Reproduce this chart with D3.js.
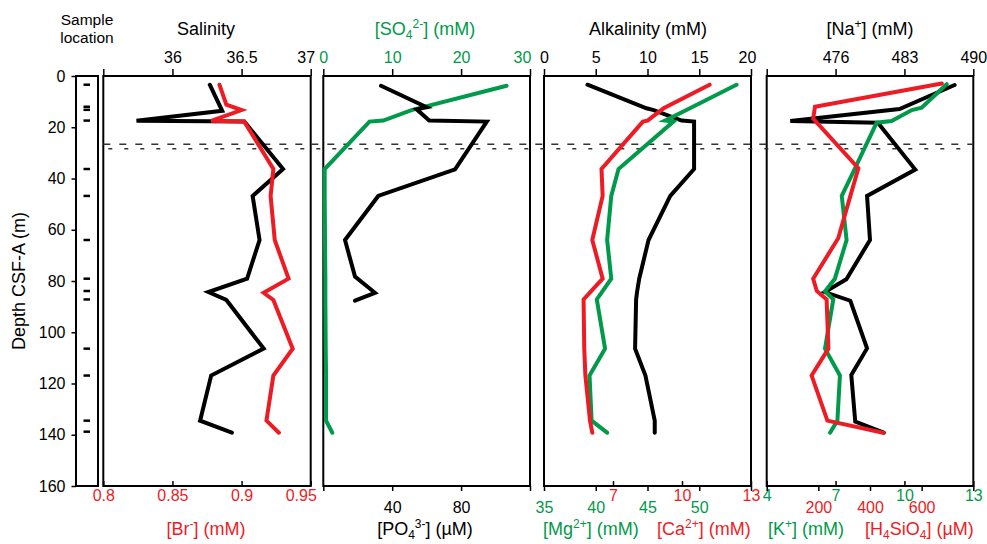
<!DOCTYPE html>
<html>
<head>
<meta charset="utf-8">
<script src="https://cdn.jsdelivr.net/npm/d3@7"></script>
<style>
body { margin: 0; background: #fff; }
svg text { font-family: "Liberation Sans", Arial, Helvetica, sans-serif; }
</style>
</head>
<body>
<script>
// ---- data : [depth (m), value] ----
const sampleDepths = [3.4, 12.0, 13.2, 17.4, 36.3, 46.8, 64, 79.1, 83.9, 87.2, 106.4, 116.9, 134.5, 138.8];
const boundaryDepths = [26.6, 28.4];
const depthTicks = [0, 20, 40, 60, 80, 100, 120, 140, 160];

const salinity = [[3.4,36.27],[13.6,36.36],[17.5,35.74],[17.8,36.52],[36.3,36.80],[46.8,36.58],[64,36.63],[79.1,36.54],[84.3,36.26],[87.4,36.39],[106.4,36.66],[116.9,36.28],[134.5,36.20],[139.2,36.43]];
const bromide = [[3.4,0.884],[11.2,0.889],[13.3,0.900],[17.5,0.878],[17.8,0.902],[36.3,0.923],[46.8,0.921],[64,0.924],[79.1,0.934],[84.6,0.916],[87.4,0.923],[106.4,0.937],[116.9,0.923],[134.5,0.918],[139.2,0.927]];

const sulfate = [[3.8,26.6],[13.3,12.8],[17.4,8.7],[17.8,6.7],[36.3,0.2],[46.8,0.2],[64,0.25],[79.1,0.3],[87.2,0.3],[106.4,0.35],[116.9,0.4],[134.5,0.4],[139.2,1.3]];
const phosphate = [[3.8,33.5],[12.2,60.0],[13.0,54.2],[17.4,61.5],[17.8,94.9],[36.4,76.5],[46.8,31.9],[64,12.6],[78.3,18.4],[84.6,30.0],[87.7,18.4]];

const alkalinity = [[3.4,4.2],[12.6,9.9],[13.3,10.6],[17.4,13.3],[17.8,14.5],[36.3,14.5],[46.8,12.2],[64,10.1],[79.1,9.2],[84,9.0],[87.2,8.9],[106.4,8.8],[116.9,9.8],[134.5,10.7],[139.2,10.7]];
const magnesium = [[3.4,53.6],[12.6,49.1],[17.4,46.7],[17.8,47.5],[36.3,42.2],[46.8,41.5],[64,41.1],[79.1,41.5],[87.2,40.1],[106.4,40.9],[116.9,39.4],[134.5,39.6],[139.2,41.1]];
const calcium = [[3.4,11.2],[12.6,9.2],[17.4,8.5],[17.8,8.3],[36.3,6.5],[46.8,6.55],[64,6.1],[79.1,6.55],[87.2,5.72],[106.4,5.75],[116.9,5.8],[134.5,6.0],[139.2,6.1]];

const sodium = [[3.5,488.1],[12.9,482.5],[17.6,471.4],[18.2,480.3],[36.5,484.1],[46.8,479.2],[64,479.5],[79.3,477.1],[84.3,474.9],[87.7,477.5],[106.3,479.2],[116.7,477.6],[134.9,478.0],[139.2,480.9]];
const potassium = [[3.2,11.84],[12.4,10.75],[13.3,10.32],[17.6,9.44],[18.2,8.79],[36.3,7.83],[46.8,7.27],[64,7.48],[79.1,6.97],[84,6.54],[87.2,6.90],[106.4,6.54],[116.9,7.19],[134.5,7.08],[139.2,6.76]];
const silica = [[2.9,678],[12.0,187],[16.6,180],[36.0,355],[46.8,324],[63.3,277],[79.1,180],[83.9,194],[87.2,232],[106.4,239],[116.9,174],[134.5,235],[139.2,451]];

// ---- layout ----
const RED = "#ed1c24", GREEN = "#009a4a";
const TOP = 76, BOT = 486;
const P = [[103.3, 310.7], [323.3, 530], [544, 751], [766.7, 973.3]];

const svg = d3.select("body").append("svg")
	.attr("width", 987).attr("height", 544);

const y = d3.scaleLinear().domain([0, 160]).range([TOP, BOT]);

const scales = {
	sal: d3.scaleLinear().domain([35.5, 37]).range(P[0]),
	br:  d3.scaleLinear().domain([0.8, 0.95]).range(P[0]),
	so4: d3.scaleLinear().domain([0, 30]).range(P[1]),
	po4: d3.scaleLinear().domain([0, 120]).range(P[1]),
	alk: d3.scaleLinear().domain([0, 20]).range(P[2]),
	mg:  d3.scaleLinear().domain([35, 55]).range(P[2]),
	ca:  d3.scaleLinear().domain([4, 13]).range(P[2]),
	na:  d3.scaleLinear().domain([469, 490]).range(P[3]),
	k:   d3.scaleLinear().domain([4, 13]).range(P[3]),
	si:  d3.scaleLinear().domain([0, 800]).range(P[3])
};

// text with sub / superscripts
function rich(sel, parts) {
	let off = 0;
	parts.forEach(([t, kind]) => {
		const target = kind === "sub" ? 4 : kind === "sup" ? -7 : 0;
		const ts = sel.append("tspan").text(t).attr("dy", target - off);
		if (kind) ts.attr("font-size", 12);
		off = target;
	});
	return sel;
}

// ---- depth axis + sample location strip ----
svg.append("g")
	.attr("transform", "translate(76,0)")
	.call(d3.axisLeft(y).tickValues(depthTicks).tickSize(4.5).tickPadding(6))
	.call(g => g.select(".domain").remove())
	.call(g => g.selectAll("text").attr("font-size", 16).attr("fill", "#000").attr("font-family", null))
	.call(g => g.selectAll("line").attr("stroke", "#000").attr("stroke-width", 1.5));

svg.append("rect")
	.attr("x", 76).attr("y", TOP).attr("width", 22).attr("height", BOT - TOP)
	.attr("fill", "none").attr("stroke", "#000").attr("stroke-width", 2);

svg.selectAll(".sample").data(sampleDepths).enter().append("line")
	.attr("x1", 83.5).attr("x2", 90)
	.attr("y1", d => y(d)).attr("y2", d => y(d))
	.attr("stroke", "#000").attr("stroke-width", 2.5);

svg.append("text").attr("x", 87).attr("y", 25).attr("text-anchor", "middle")
	.attr("font-size", 15.5).text("Sample");
svg.append("text").attr("x", 87).attr("y", 43).attr("text-anchor", "middle")
	.attr("font-size", 15.5).text("location");

svg.append("text")
	.attr("transform", `translate(25,${(TOP + BOT) / 2}) rotate(-90)`)
	.attr("text-anchor", "middle").attr("font-size", 18)
	.text("Depth CSF-A (m)");

// ---- axes helpers ----
// shift: {value: dx} nudges crowded edge labels
function styleAxis(g, color, shift) {
	g.select(".domain").remove();
	g.selectAll("text").attr("font-size", 16).attr("fill", color).attr("font-family", null)
		.attr("dx", d => shift[d] || 0);
	g.selectAll("line").attr("stroke", "#000").attr("stroke-width", 1.5);
}
function topAxis(scale, values, color, hide, shift = {}) {
	svg.append("g").attr("transform", `translate(0,${TOP})`)
		.call(d3.axisTop(scale).tickValues(values).tickSize(7).tickPadding(5.7)
			.tickFormat(d => hide.includes(d) ? "" : d))
		.call(g => styleAxis(g, color, shift));
}
// upper row = inward ticks, lower row = outward ticks
function bottomAxis(scale, values, color, hide, upper, shift = {}) {
	svg.append("g").attr("transform", `translate(0,${BOT})`)
		.call(d3.axisBottom(scale).tickValues(values)
			.tickSize(upper ? -5 : 5).tickPadding(upper ? 4 : 10.6)
			.tickFormat(d => hide.includes(d) ? "" : d))
		.call(g => styleAxis(g, color, shift));
}

topAxis(scales.sal, [35.5, 36, 36.5, 37], "#000", [35.5], {37: -5});
topAxis(scales.so4, [0, 10, 20, 30], GREEN, [], {30: -8});
topAxis(scales.alk, [0, 5, 10, 15, 20], "#000", [], {20: -4});
topAxis(scales.na, [469, 476, 483, 490], "#000", [469]);

bottomAxis(scales.br, [0.8, 0.85, 0.9, 0.95], RED, [], true, {0.95: -10});
bottomAxis(scales.po4, [0, 40, 80, 120], "#000", [0, 120], false);
bottomAxis(scales.mg, [35, 40, 45, 50, 55], GREEN, [55], false);
bottomAxis(scales.ca, [7, 10, 13], RED, [], true);
bottomAxis(scales.k, [4, 7, 10, 13], GREEN, [], true);
bottomAxis(scales.si, [0, 200, 400, 600, 800], RED, [0, 800], false);

// ---- frames ----
P.forEach(([a, b]) => {
	svg.append("rect")
		.attr("x", a).attr("y", TOP).attr("width", b - a).attr("height", BOT - TOP)
		.attr("fill", "none").attr("stroke", "#000").attr("stroke-width", 2);
});

// ---- boundary dashed lines ----
svg.selectAll(".bound").data(boundaryDepths).enter().append("line")
	.attr("x1", P[0][0]).attr("x2", P[3][1])
	.attr("y1", d => y(d)).attr("y2", d => y(d))
	.attr("stroke", "#333").attr("stroke-width", 1.5)
	.attr("stroke-dasharray", (d, i) => i ? "4,12" : "7,9")
	.attr("stroke-dashoffset", (d, i) => i ? -5 : 0);

// ---- titles ----
svg.append("text").attr("x", 206).attr("y", 35).attr("text-anchor", "middle").attr("font-size", 18).text("Salinity");
rich(svg.append("text").attr("x", 425).attr("y", 35).attr("text-anchor", "middle").attr("font-size", 18).attr("fill", GREEN),
	[["[SO"], ["4", "sub"], ["2-", "sup"], ["] (mM)"]]);
svg.append("text").attr("x", 648).attr("y", 35).attr("text-anchor", "middle").attr("font-size", 18).text("Alkalinity (mM)");
rich(svg.append("text").attr("x", 870).attr("y", 35).attr("text-anchor", "middle").attr("font-size", 18),
	[["[Na"], ["+", "sup"], ["] (mM)"]]);

const BT = 535;
rich(svg.append("text").attr("x", 206).attr("y", BT).attr("text-anchor", "middle").attr("font-size", 18).attr("fill", RED),
	[["[Br"], ["-", "sup"], ["] (mM)"]]);
rich(svg.append("text").attr("x", 425).attr("y", BT).attr("text-anchor", "middle").attr("font-size", 18),
	[["[PO"], ["4", "sub"], ["3-", "sup"], ["] (\u00b5M)"]]);
rich(svg.append("text").attr("x", 543).attr("y", BT).attr("font-size", 18).attr("fill", GREEN),
	[["[Mg"], ["2+", "sup"], ["] (mM)"]]);
rich(svg.append("text").attr("x", 657).attr("y", BT).attr("font-size", 18).attr("fill", RED),
	[["[Ca"], ["2+", "sup"], ["] (mM)"]]);
rich(svg.append("text").attr("x", 768).attr("y", BT).attr("font-size", 18).attr("fill", GREEN),
	[["[K"], ["+", "sup"], ["] (mM)"]]);
rich(svg.append("text").attr("x", 865).attr("y", BT).attr("font-size", 18).attr("fill", RED),
	[["[H"], ["4", "sub"], ["SiO"], ["4", "sub"], ["] (\u00b5M)"]]);

// ---- profiles ----
function profile(data, scale, color) {
	const line = d3.line().x(d => scale(d[1])).y(d => y(d[0]));
	svg.append("path").datum(data)
		.attr("d", line)
		.attr("fill", "none").attr("stroke", color)
		.attr("stroke-width", 4)
		.attr("stroke-linecap", "round")
		.attr("stroke-linejoin", "miter");
}

profile(salinity, scales.sal, "#000");
profile(bromide, scales.br, RED);

profile(sulfate, scales.so4, GREEN);
profile(phosphate, scales.po4, "#000");

profile(alkalinity, scales.alk, "#000");
profile(magnesium, scales.mg, GREEN);
profile(calcium, scales.ca, RED);

profile(sodium, scales.na, "#000");
profile(potassium, scales.k, GREEN);
profile(silica, scales.si, RED);
</script>
</body>
</html>
